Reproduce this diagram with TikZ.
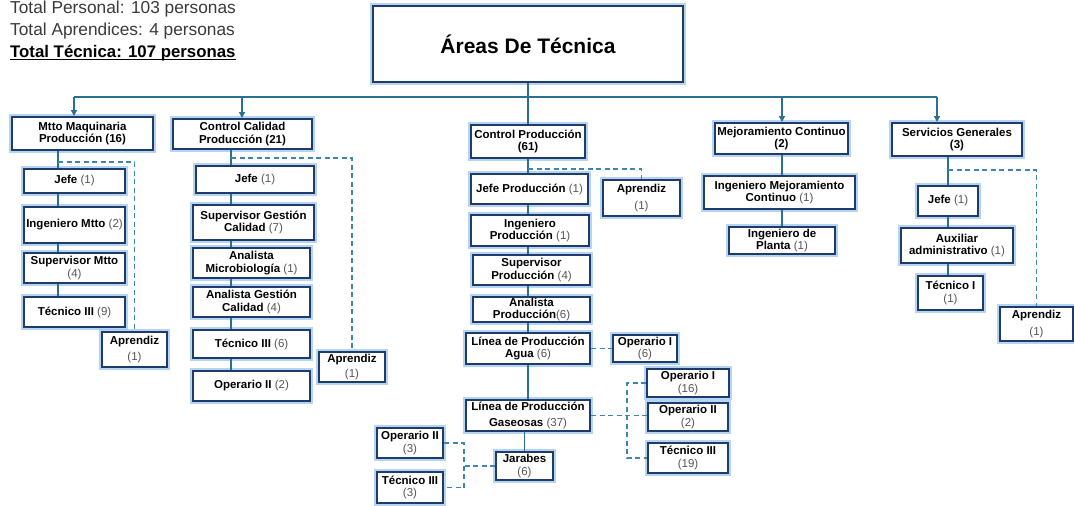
\documentclass[tikz,border=0pt]{standalone}
\usepackage{fontspec}
\setmainfont{Liberation Sans}
\usetikzlibrary{arrows.meta}
\definecolor{navy}{HTML}{1F3B6E}
\definecolor{glow}{HTML}{9CC5EA}
\definecolor{connc}{HTML}{2B6F93}
\definecolor{dashc}{HTML}{3F86AE}
\definecolor{cntgray}{HTML}{555555}
\definecolor{hdrgray}{HTML}{3A3A3A}
\newcommand\cnt[1]{{\mdseries\color{cntgray}#1}}
\begin{document}
\begin{tikzpicture}[x=1pt,y=-1pt,
  box/.style={draw=navy, line width=2pt, fill=white, inner sep=0pt, align=center,
    preaction={draw=glow, line width=5.5pt, opacity=0.75},
    font=\fontsize{11.5}{12.5}\selectfont\bfseries},
  conn/.style={draw=connc, line width=1.8pt},
  dline/.style={draw=dashc, line width=1.7pt, dash pattern=on 5pt off 3.5pt},
  arr/.style={conn, -{Triangle[length=6pt,width=6pt]}},
  hdr/.style={anchor=base west, inner sep=0pt, font=\fontsize{17.3}{19}\selectfont, text=hdrgray}
]
\useasboundingbox (0,0) rectangle (1074,506);

% header text
\node[hdr] (t1) at (10,13.5) {Total Personal: 103 personas};
\node[hdr] (t2) at (10,35) {Total Aprendices: 4 personas};
\node[hdr, text=black, font=\fontsize{16.8}{19}\selectfont\bfseries] (t3) at (10,57) {Total Técnica: 107 personas};
\draw[line width=1.3pt] ([yshift=-2.5pt]t3.base west) -- ([yshift=-2.5pt]t3.base east);

% title
\node[box, minimum width=310pt, minimum height=76pt, font=\fontsize{21}{24}\selectfont\bfseries] (title) at (528,44) {Áreas De Técnica};

% level 1
\node[box, minimum width=141pt, minimum height=33pt] (mtto) at (82.5,133.5) {Mtto Maquinaria\\Producción (16)};
\node[box, minimum width=139pt, minimum height=30pt] (cc) at (242.5,134) {Control Calidad\\Producción (21)};
\node[box, minimum width=114pt, minimum height=33pt] (cp) at (528,141.5) {Control Producción\\(61)};
\node[box, minimum width=133pt, minimum height=31pt] (mc) at (781.5,138.5) {Mejoramiento Continuo\\(2)};
\node[box, minimum width=130pt, minimum height=33pt] (sg) at (957,139.5) {Servicios Generales\\(3)};

% bus
\coordinate (a1) at (74,97);
\coordinate (a2) at (242,97);
\coordinate (a4) at (782,97);
\coordinate (a5) at (937,97);
\draw[conn] (a1) -- (a5);
\draw[conn] (title.south) -- (cp.north);
\draw[arr] (a1) -- (a1 |- mtto.north);
\draw[arr] (a2) -- (a2 |- cc.north);
\draw[arr] (a4) -- (a4 |- mc.north);
\draw[arr] (a5) -- (a5 |- sg.north);

% Mtto column
\node[box, minimum width=101pt, minimum height=24pt] (m1) at (74.5,181) {Jefe \cnt{(1)}};
\node[box, minimum width=101pt, minimum height=36pt] (m2) at (74.5,225) {Ingeniero Mtto \cnt{(2)}};
\node[box, minimum width=101pt, minimum height=30pt] (m3) at (74.5,268) {Supervisor Mtto\\\cnt{(4)}};
\node[box, minimum width=101pt, minimum height=30pt] (m4) at (74.5,312) {Técnico III \cnt{(9)}};
\node[box, minimum width=65pt, minimum height=35pt] (m5) at (134.5,349.5) {Aprendiz\\[4pt]\cnt{(1)}};
\coordinate (mx) at (58,162);
\draw[conn] (mtto.south -| mx) -- (m1.north -| mx);
\draw[conn] (m1.south -| mx) -- (m2.north -| mx);
\draw[conn] (m2.south -| mx) -- (m3.north -| mx);
\draw[conn] (m3.south -| mx) -- (m4.north -| mx);
\draw[dline] (mx) -| (m5.north);

% Control Calidad column
\node[box, minimum width=118pt, minimum height=27pt] (c1) at (255,179.5) {Jefe \cnt{(1)}};
\node[box, minimum width=121pt, minimum height=35pt] (c2) at (253.5,222.5) {Supervisor Gestión\\Calidad \cnt{(7)}};
\node[box, minimum width=117pt, minimum height=30pt] (c3) at (251.5,263) {Analista\\Microbiología \cnt{(1)}};
\node[box, minimum width=117pt, minimum height=30pt] (c4) at (251.5,302) {Analista Gestión\\Calidad \cnt{(4)}};
\node[box, minimum width=117pt, minimum height=28pt] (c5) at (251.5,344) {Técnico III \cnt{(6)}};
\node[box, minimum width=117pt, minimum height=30pt] (c6) at (251.5,386) {Operario II \cnt{(2)}};
\node[box, minimum width=66pt, minimum height=30pt] (c7) at (352,367) {Aprendiz\\[3pt]\cnt{(1)}};
\coordinate (cx) at (231,158);
\draw[conn] (cc.south -| cx) -- (c1.north -| cx);
\draw[conn] (c1.south -| cx) -- (c2.north -| cx);
\draw[conn] (c2.south -| cx) -- (c3.north -| cx);
\draw[conn] (c3.south -| cx) -- (c4.north -| cx);
\draw[conn] (c4.south -| cx) -- (c5.north -| cx);
\draw[conn] (c5.south -| cx) -- (c6.north -| cx);
\draw[dline] (cx) -| (c7.north);

% Control Produccion column
\node[box, minimum width=117pt, minimum height=30pt] (p1) at (529.5,189) {Jefe Producción \cnt{(1)}};
\node[box, minimum width=77pt, minimum height=36pt] (p2) at (641.5,198) {Aprendiz\\[4pt]\cnt{(1)}};
\node[box, minimum width=118pt, minimum height=31pt] (p3) at (530,230.5) {Ingeniero\\Producción \cnt{(1)}};
\node[box, minimum width=117pt, minimum height=30pt] (p4) at (531.5,270) {Supervisor\\Producción \cnt{(4)}};
\node[box, minimum width=117pt, minimum height=25pt] (p5) at (531.5,309.5) {Analista\\Producción\cnt{(6)}};
\node[box, minimum width=124pt, minimum height=31pt] (p6) at (528,348.5) {Línea de Producción\\Agua \cnt{(6)}};
\node[box, minimum width=64pt, minimum height=27pt] (p7) at (645,348.5) {Operario I\\\cnt{(6)}};
\node[box, minimum width=124pt, minimum height=31pt] (p8) at (528,415.5) {Línea de Producción\\[4pt]Gaseosas \cnt{(37)}};
\node[box, minimum width=57pt, minimum height=28pt] (p9) at (524.5,466) {Jarabes\\\cnt{(6)}};
\node[box, minimum width=66pt, minimum height=30pt] (p10) at (410,443) {Operario II\\\cnt{(3)}};
\node[box, minimum width=66pt, minimum height=31pt] (p11) at (410,487.5) {Técnico III\\\cnt{(3)}};
\node[box, minimum width=82pt, minimum height=28pt] (p12) at (688,383) {Operario I\\\cnt{(16)}};
\node[box, minimum width=80pt, minimum height=28pt] (p13) at (688,417) {Operario II\\\cnt{(2)}};
\node[box, minimum width=80pt, minimum height=30pt] (p14) at (688,458) {Técnico III\\\cnt{(19)}};
\coordinate (px) at (528,169);
\draw[conn] (cp.south) -- (p1.north -| px);
\draw[conn] (p1.south -| px) -- (p3.north -| px);
\draw[conn] (p3.south -| px) -- (p4.north -| px);
\draw[conn] (p4.south -| px) -- (p5.north -| px);
\draw[conn] (p5.south -| px) -- (p6.north -| px);
\draw[conn] (p6.south) -- (p8.north);
\draw[conn] (p8.south -| p9.north) -- (p9.north);
\draw[dline] (px) -| (p2.north);
\draw[dline] (p6.east) -- (p7.west);
\coordinate (gx) at (627,0);
\draw[dline] (p8.east) -- (p8.east -| p13.west);
\draw[dline] (p12.west) -- (p12.west -| gx) -- (p14.west -| gx) -- (p14.west);
\coordinate (jx) at (464,0);
\draw[dline] (p9.west) -- (p9.west -| jx);
\draw[dline] (p10.east) -- (p10.east -| jx) -- (p11.east -| jx) -- (p11.east);

% Mejoramiento column
\node[box, minimum width=151pt, minimum height=33pt] (e1) at (779.5,192.5) {Ingeniero Mejoramiento\\Continuo \cnt{(1)}};
\node[box, minimum width=106pt, minimum height=27pt] (e2) at (782,240.5) {Ingeniero de\\Planta \cnt{(1)}};
\draw[conn] (mc.south -| a4) -- (e1.north -| a4);
\draw[conn] (e1.south -| a4) -- (e2.north -| a4);

% Servicios column
\node[box, minimum width=60pt, minimum height=30pt] (s1) at (948,201) {Jefe \cnt{(1)}};
\node[box, minimum width=112pt, minimum height=35pt] (s2) at (957,245.5) {Auxiliar\\administrativo \cnt{(1)}};
\node[box, minimum width=65pt, minimum height=34pt] (s3) at (950.5,293) {Técnico I\\\cnt{(1)}};
\node[box, minimum width=73pt, minimum height=34pt] (s4) at (1036.5,324) {Aprendiz\\[4pt]\cnt{(1)}};
\coordinate (sx) at (948,170);
\draw[conn] (sg.south -| sx) -- (s1.north -| sx);
\draw[conn] (s1.south -| sx) -- (s2.north -| sx);
\draw[conn] (s2.south -| sx) -- (s3.north -| sx);
\draw[dline] (sx) -| (s4.north);
\end{tikzpicture}
\end{document}
